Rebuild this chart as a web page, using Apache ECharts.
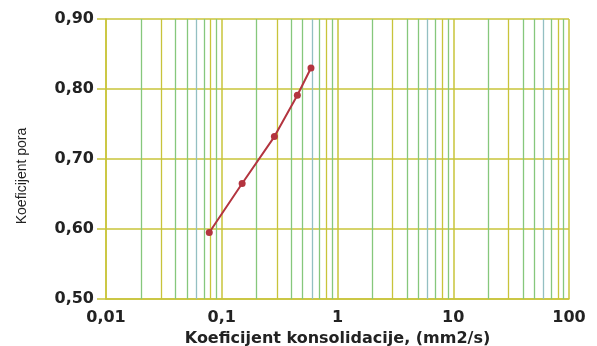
<!DOCTYPE html>
<html>
<head>
<meta charset="utf-8">
<script src="https://cdn.jsdelivr.net/npm/echarts@6/dist/echarts.min.js"></script>
<style>html,body{margin:0;padding:0;background:#fff}#c{width:597px;height:346px}</style>
</head>
<body>
<div id="c"></div>
<script>
// Data
const consolidation = [0.078, 0.15, 0.285, 0.45, 0.59];
const voidRatio = [0.595, 0.665, 0.732, 0.791, 0.830];
const xTickLabels = ['0,01', '0,1', '1', '10', '100'];
const yTickLabels = ['0,50', '0,60', '0,70', '0,80', '0,90'];
const decades = [0.01, 0.1, 1, 10];
const multipliers = [2, 3, 4, 5, 6, 7, 8, 9];
const xTitle = 'Koeficijent konsolidacije, (mm2/s)';
const yTitle = 'Koeficijent pora';

const YEL = '#c8c43a', GRN = '#86c77c', BLU = '#93bfc2';
const multColor = {2: GRN, 3: YEL, 4: GRN, 5: GRN, 6: BLU, 7: GRN, 8: YEL, 9: GRN};

const minorLines = [];
decades.forEach(d => multipliers.forEach(m => {
  minorLines.push({xAxis: +(d * m).toPrecision(3), lineStyle: {color: multColor[m], width: 1.3, type: 'solid'}});
}));

const chart = echarts.init(document.getElementById('c'));
chart.setOption({
  animation: false,
  grid: {left: 106, right: 28, top: 19, bottom: 47, containLabel: false, outerBoundsMode: 'none'},
  graphic: [{
    type: 'text', x: 22, y: 176, rotation: Math.PI / 2,
    style: {text: yTitle, fontFamily: 'Liberation Sans Narrow, Liberation Sans', fontSize: 14,
            fill: '#222', align: 'center', verticalAlign: 'middle'}
  }],
  xAxis: {
    type: 'log', logBase: 10, min: 0.01, max: 100,
    name: xTitle,
    nameLocation: 'middle', nameGap: 32,
    nameTextStyle: {fontFamily: 'DejaVu Sans', fontWeight: 'bold', fontSize: 16, color: '#222'},
    axisLine: {show: true, lineStyle: {color: YEL, width: 1.5}},
    axisTick: {show: false},
    axisLabel: {
      margin: 11, fontFamily: 'DejaVu Sans', fontWeight: 'bold', fontSize: 16, color: '#222',
      formatter: v => xTickLabels[Math.round(Math.log10(v)) + 2]
    },
    splitLine: {show: true, lineStyle: {color: YEL, width: 1.5}}
  },
  yAxis: {
    type: 'value', min: 0.5, max: 0.9, interval: 0.1,
    axisLine: {show: true, lineStyle: {color: YEL, width: 1.5}},
    axisTick: {show: true, length: 9, lineStyle: {color: YEL, width: 1.5}},
    axisLabel: {
      margin: 12, fontFamily: 'DejaVu Sans', fontWeight: 'bold', fontSize: 16, color: '#222',
      formatter: v => yTickLabels[Math.round((v - 0.5) / 0.1)]
    },
    splitLine: {show: true, lineStyle: {color: YEL, width: 1.5}}
  },
  series: [{
    type: 'line',
    data: consolidation.map((x, i) => [x, voidRatio[i]]),
    symbol: 'circle', symbolSize: 7,
    itemStyle: {color: '#b3343f'},
    lineStyle: {color: '#b3343f', width: 2},
    z: 5,
    markLine: {
      silent: true, symbol: 'none', label: {show: false}, animation: false,
      z: 1,
      data: minorLines
    }
  }]
});
</script>
</body>
</html>
